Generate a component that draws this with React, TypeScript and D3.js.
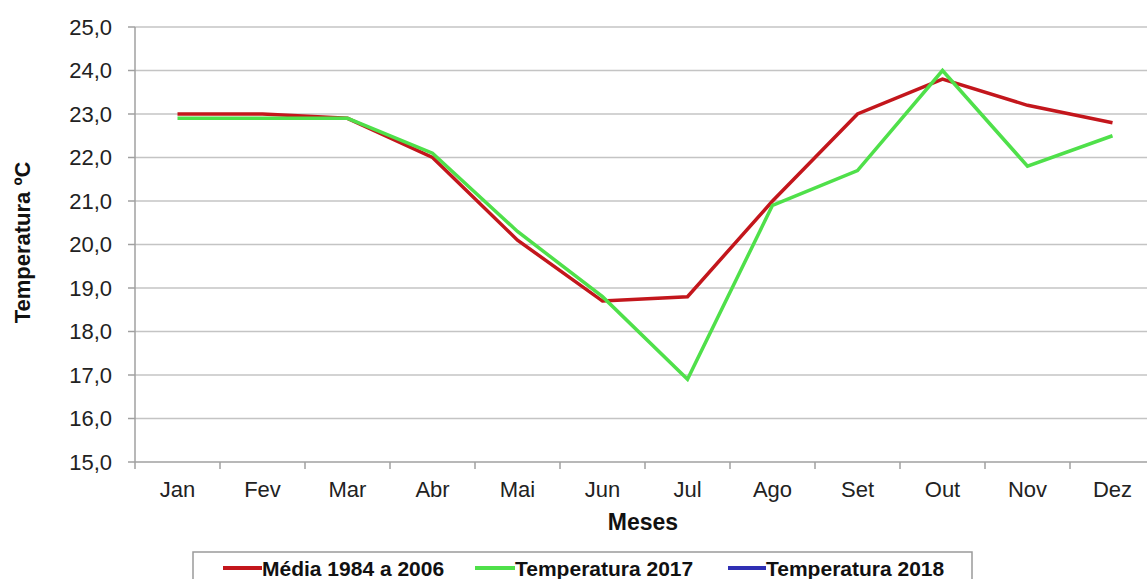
import React from 'react';
import * as d3 from 'd3';

const months = ['Jan', 'Fev', 'Mar', 'Abr', 'Mai', 'Jun', 'Jul', 'Ago', 'Set', 'Out', 'Nov', 'Dez'];
const media1984 = [23.0, 23.0, 22.9, 22.0, 20.1, 18.7, 18.8, 21.0, 23.0, 23.8, 23.2, 22.8];
const temp2017 = [22.9, 22.9, 22.9, 22.1, 20.3, 18.8, 16.9, 20.9, 21.7, 24.0, 21.8, 22.5];
const temp2018: number[] = [];
const yTicks = [15, 16, 17, 18, 19, 20, 21, 22, 23, 24, 25];

const series = [
  { name: 'Média 1984 a 2006', values: media1984, color: '#c3161c' },
  { name: 'Temperatura 2017', values: temp2017, color: '#4fe04a' },
  { name: 'Temperatura 2018', values: temp2018, color: '#2f2fb4' },
];

const W = 1147;
const H = 579;
const left = 135;
const top = 27;
const bottom = 462;

export default function App() {
  const x = d3.scaleBand<string>().domain(months).range([left, left + 85 * 12]);
  const y = d3.scaleLinear().domain([15, 25]).range([bottom, top]);
  const line = d3.line<number>()
    .x((_, i) => (x(months[i]) ?? 0) + x.bandwidth() / 2)
    .y(d => y(d));
  const fmt = (v: number) => v.toFixed(1).replace('.', ',');
  const font = '"Liberation Sans", Arial, sans-serif';

  // legend sample line start / text start
  const legendItems = [
    { x: 223, textX: 262 },
    { x: 475, textX: 515 },
    { x: 728, textX: 766 },
  ];

  return (
    <svg width={W} height={H} style={{ position: 'absolute', left: 0, top: 0, background: '#fff' }} fontFamily={font}>
      {/* gridlines */}
      {yTicks.slice(1).map(t => (
        <line key={t} x1={left} x2={W} y1={y(t)} y2={y(t)} stroke="#c4c4c4" strokeWidth={1.5} />
      ))}
      {/* axes */}
      <line x1={left} x2={left} y1={top} y2={bottom} stroke="#a0a0a0" strokeWidth={1.5} />
      <line x1={left} x2={W} y1={bottom} y2={bottom} stroke="#a0a0a0" strokeWidth={1.5} />
      {yTicks.map(t => (
        <g key={t}>
          <line x1={left - 7} x2={left} y1={y(t)} y2={y(t)} stroke="#a0a0a0" strokeWidth={1.5} />
          <text x={112} y={y(t)} dy="0.36em" textAnchor="end" fontSize={22} fill="#222">{fmt(t)}</text>
        </g>
      ))}
      {months.map((m, i) => (
        <g key={m}>
          <line x1={left + 85 * i} x2={left + 85 * i} y1={bottom} y2={bottom + 7} stroke="#a0a0a0" strokeWidth={1.5} />
          <text x={(x(m) ?? 0) + x.bandwidth() / 2} y={497} textAnchor="middle" fontSize={22} fill="#222">{m}</text>
        </g>
      ))}
      <text x={643} y={530} textAnchor="middle" fontSize={23} fontWeight="bold" fill="#111">Meses</text>
      <text transform={`translate(30,${(top + bottom) / 2 - 2}) rotate(-90)`} textAnchor="middle" fontSize={22} fontWeight="bold" fill="#111">Temperatura ºC</text>

      {/* series */}
      {series.filter(s => s.values.length).map(s => (
        <path key={s.name} d={line(s.values) ?? ''} fill="none" stroke={s.color} strokeWidth={3.5} strokeLinejoin="miter" />
      ))}

      {/* legend */}
      <rect x={193} y={552} width={779} height={40} fill="#fff" stroke="#9a9a9a" strokeWidth={1.5} />
      {series.map((s, i) => (
        <g key={s.name}>
          <line x1={legendItems[i].x} x2={legendItems[i].textX} y1={568} y2={568} stroke={s.color} strokeWidth={4} />
          <text x={legendItems[i].textX} y={568} dy="0.36em" fontSize={21} fontWeight="bold" fill="#111">{s.name}</text>
        </g>
      ))}
    </svg>
  );
}
